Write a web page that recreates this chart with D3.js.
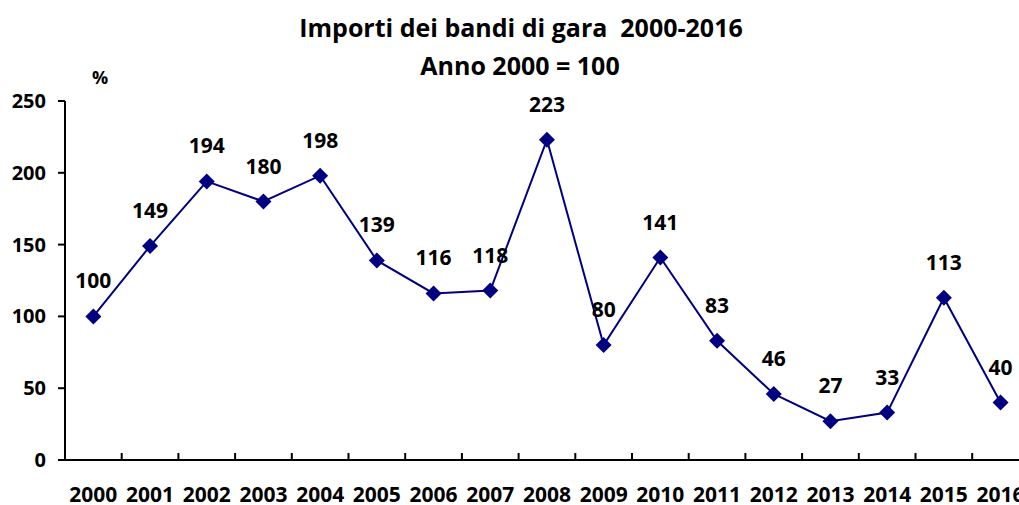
<!DOCTYPE html>
<html>
<head>
<meta charset="utf-8">
<script src="https://cdn.jsdelivr.net/npm/d3@7"></script>
<style>
  body { margin: 0; background: #fff; }
  svg { font-family: 'Open Sans', sans-serif; font-weight: bold; }
  svg text { white-space: pre; }
</style>
</head>
<body>
<div id="chart"></div>
<script>
const years = ['2000', '2001', '2002', '2003', '2004', '2005', '2006', '2007', '2008',
  '2009', '2010', '2011', '2012', '2013', '2014', '2015', '2016'];
const values = [100, 149, 194, 180, 198, 139, 116, 118, 223, 80, 141, 83, 46, 27, 33, 113, 40];
const yTicks = [0, 50, 100, 150, 200, 250];
const lineColor = '#000080';

const width = 1019, height = 505;

const svg = d3.select('#chart').append('svg')
  .attr('width', width)
  .attr('height', height);

const x = d3.scaleBand()
  .domain(years)
  .range([65, 65 + 56.7 * years.length]);

const y = d3.scaleLinear()
  .domain([0, 250])
  .range([460, 101]);

// title
svg.append('text')
  .attr('x', 521).attr('y', 37)
  .attr('text-anchor', 'middle')
  .style('font-size', '25px')
  .text('Importi dei bandi di gara  2000-2016');
svg.append('text')
  .attr('x', 520).attr('y', 75)
  .attr('text-anchor', 'middle')
  .style('font-size', '25px')
  .text('Anno 2000 = 100');

svg.append('text')
  .attr('x', 100).attr('y', 84)
  .attr('text-anchor', 'middle')
  .style('font-size', '18px')
  .text('%');

// y axis
const yAxis = svg.append('g');
yAxis.append('line')
  .attr('x1', 65).attr('x2', 65)
  .attr('y1', y(250)).attr('y2', y(0))
  .attr('stroke', '#000').attr('stroke-width', 2);
yAxis.selectAll('line.tick')
  .data(yTicks)
  .enter().append('line')
  .attr('class', 'tick')
  .attr('x1', 58).attr('x2', 65)
  .attr('y1', d => y(d)).attr('y2', d => y(d))
  .attr('stroke', '#000').attr('stroke-width', 2);
yAxis.selectAll('text')
  .data(yTicks)
  .enter().append('text')
  .attr('x', 46)
  .attr('y', d => y(d))
  .attr('dy', '0.35em')
  .attr('text-anchor', 'end')
  .style('font-size', '20px')
  .text(d => d);

// x axis
const xAxis = svg.append('g');
xAxis.append('line')
  .attr('x1', 58).attr('x2', width)
  .attr('y1', y(0)).attr('y2', y(0))
  .attr('stroke', '#000').attr('stroke-width', 2);
xAxis.selectAll('line.tick')
  .data(years.slice(1))
  .enter().append('line')
  .attr('class', 'tick')
  .attr('x1', d => x(d)).attr('x2', d => x(d))
  .attr('y1', y(0) - 7).attr('y2', y(0))
  .attr('stroke', '#000').attr('stroke-width', 2);
xAxis.selectAll('text')
  .data(years)
  .enter().append('text')
  .attr('x', d => x(d) + x.bandwidth() / 2)
  .attr('y', 502)
  .attr('text-anchor', 'middle')
  .style('font-size', '21px')
  .text(d => d);

const data = years.map((yr, i) => ({ year: yr, value: values[i] }));
const cx = d => x(d.year) + x.bandwidth() / 2;

const line = d3.line()
  .x(cx)
  .y(d => y(d.value));

svg.append('path')
  .datum(data)
  .attr('fill', 'none')
  .attr('stroke', lineColor)
  .attr('stroke-width', 2)
  .attr('d', line);

svg.selectAll('path.marker')
  .data(data)
  .enter().append('path')
  .attr('class', 'marker')
  .attr('d', 'M0,-8L8,0L0,8L-8,0Z')
  .attr('transform', d => 'translate(' + cx(d) + ',' + y(d.value) + ')')
  .attr('fill', lineColor);

svg.selectAll('text.value')
  .data(data)
  .enter().append('text')
  .attr('class', 'value')
  .attr('x', cx)
  .attr('y', d => y(d.value) - 28)
  .attr('text-anchor', 'middle')
  .style('font-size', '21px')
  .text(d => d.value);
</script>
</body>
</html>
